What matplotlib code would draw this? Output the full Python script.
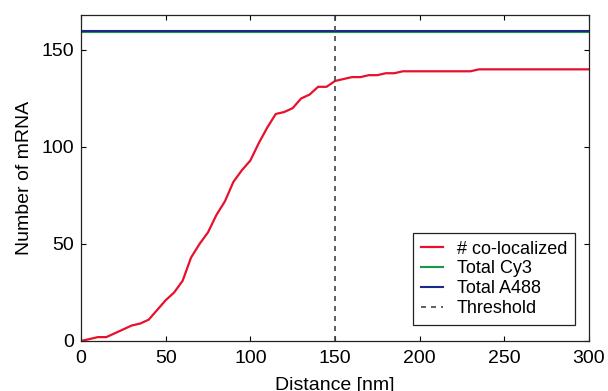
import matplotlib
matplotlib.use("Agg")
import matplotlib.pyplot as plt

plt.rcParams['font.family'] = ['Liberation Sans', 'DejaVu Sans']

# Avstånd (nm) och antal samlokaliserade mRNA
distance = [0, 5, 10, 15, 20, 25, 30, 35, 40, 45, 50, 55, 60, 65, 70, 75, 80, 85,
            90, 95, 100, 105, 110, 115, 120, 125, 130, 135, 140, 145, 150, 155,
            160, 165, 170, 175, 180, 185, 190, 195, 200, 205, 210, 215, 220, 225,
            230, 235, 240, 245, 250, 255, 260, 265, 270, 275, 280, 285, 290, 295, 300]
colocalized = [0, 1, 2, 2, 4, 6, 8, 9, 11, 16, 21, 25, 31, 43, 50, 56, 65, 72,
               82, 88, 93, 102, 110, 117, 118, 120, 125, 127, 131, 131, 134, 135,
               136, 136, 137, 137, 138, 138, 139, 139, 139, 139, 139, 139, 139, 139,
               139, 140, 140, 140, 140, 140, 140, 140, 140, 140, 140, 140, 140, 140, 140]
total_cy3 = 159
total_a488 = 160
threshold = 150

fig = plt.figure(figsize=(6.08, 3.91), dpi=100)
ax = fig.add_axes([0.1332, 0.1279, 0.8356, 0.8337])

ax.plot(distance, colocalized, color='#e8102c', lw=1.6, label='# co-localized')
ax.axhline(total_cy3, color='#149a42', lw=1.5, label='Total Cy3')
ax.axhline(total_a488, color='#1b2a88', lw=1.5, label='Total A488')
ax.axvline(threshold, color='#444444', lw=1.2, ls=(0, (3, 3)), label='Threshold')

ax.set_xlim(0, 300)
ax.set_ylim(0, 168)
ax.set_xticks([0, 50, 100, 150, 200, 250, 300])
ax.set_yticks([0, 50, 100, 150])
ax.tick_params(direction='in', top=True, right=True, length=3.6, width=0.8,
               labelsize=14)
ax.tick_params(axis='x', pad=6.5)
ax.tick_params(axis='y', pad=5)

for s in ax.spines.values():
    s.set_linewidth(0.9)
    s.set_color('#222222')

ax.set_xlabel('Distance [nm]', fontsize=14, labelpad=7)
ax.set_ylabel('Number of mRNA', fontsize=14, labelpad=6)

leg = ax.legend(loc='lower right', bbox_to_anchor=(0.9724, 0.049), borderaxespad=0,
                fontsize=13, fancybox=False, framealpha=1, edgecolor='#222222',
                handlelength=1.2, handletextpad=0.75, labelspacing=0.15, borderpad=0.45)
leg.get_frame().set_linewidth(0.9)

fig.savefig('out.png', dpi=100)
